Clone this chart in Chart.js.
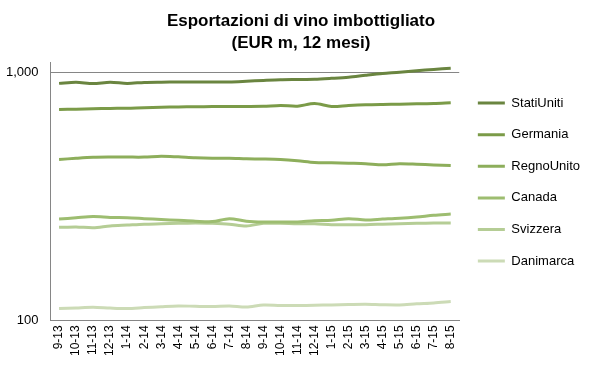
<!DOCTYPE html>
<html>
<head>
<meta charset="utf-8">
<script src="https://cdn.jsdelivr.net/npm/chart.js@4/dist/chart.umd.min.js"></script>
<style>
  html, body { margin: 0; padding: 0; background: #fff; }
  #wrap { width: 600px; height: 375px; }
</style>
</head>
<body>
<div id="wrap"><canvas id="vinoChart"></canvas></div>
<script>
// mesi (rolling 12 mesi)
const mesi = ['9-13', '10-13', '11-13', '12-13', '1-14', '2-14', '3-14', '4-14', '5-14', '6-14', '7-14', '8-14',
              '9-14', '10-14', '11-14', '12-14', '1-15', '2-15', '3-15', '4-15', '5-15', '6-15', '7-15', '8-15'];

// EUR m
const statiUniti = [902, 912, 900, 912, 902, 910, 912, 913, 913, 913, 914, 920, 927, 933, 935, 937, 945, 955, 972, 988, 1000, 1015, 1027, 1038];
const germania   = [708, 710, 713, 715, 716, 720, 722, 725, 726, 727, 728, 728, 729, 735, 730, 748, 728, 735, 740, 742, 743, 746, 748, 753];
const regnoUnito = [445, 450, 454, 455, 455, 455, 459, 456, 452, 450, 450, 448, 447, 445, 440, 433, 432, 430, 428, 424, 428, 426, 423, 421];
const canada     = [256, 259, 262, 260, 259, 257, 255, 253, 251, 250, 257, 251, 249, 249, 249, 252, 253, 257, 254, 256, 258, 261, 265, 268];
const svizzera   = [237, 238, 236, 240, 242, 244, 245, 246, 247, 246, 244, 240, 246, 246, 245, 245, 243, 243, 243, 244, 245, 246, 247, 247];
const danimarca  = [111.5, 112.2, 112.9, 112, 111.5, 112.5, 113.5, 114.3, 113.9, 113.6, 114.3, 113.2, 115.3, 114.8, 114.7, 114.9, 115.4, 115.8, 116.1, 115.5, 115.3, 116.5, 117.5, 119];

const yTicks = [100, 1000];

const grigio = '#868686';

function serie(label, data, colore) {
  return {
    label: label,
    data: data,
    borderColor: colore,
    backgroundColor: colore,
    borderWidth: 3,
    pointRadius: 0,
    tension: 0.3,
    fill: false
  };
}

// il titolo va centrato sulla pagina, non sul box spostato dal padding
const centraTitolo = {
  id: 'centraTitolo',
  afterLayout(chart) {
    if (chart.titleBlock) {
      chart.titleBlock.left += 9;
      chart.titleBlock.right += 9;
    }
  }
};

new Chart(document.getElementById('vinoChart'), {
  type: 'line',
  data: {
    labels: mesi,
    datasets: [
      serie('StatiUniti', statiUniti, '#6A8540'),
      serie('Germania', germania, '#7B9B48'),
      serie('RegnoUnito', regnoUnito, '#8DAE5B'),
      serie('Canada', canada, '#9DBD70'),
      serie('Svizzera', svizzera, '#B5CD95'),
      serie('Danimarca', danimarca, '#CCDBB6')
    ]
  },
  plugins: [centraTitolo],
  options: {
    responsive: true,
    maintainAspectRatio: false,
    animation: false,
    layout: { padding: { left: -6, right: 10, bottom: 14 } },
    plugins: {
      title: {
        display: true,
        text: ['Esportazioni di vino imbottigliato', '(EUR m, 12 mesi)'],
        color: '#000',
        font: { family: '"Liberation Sans", Arial, sans-serif', size: 17, weight: 'bold', lineHeight: 1.3 },
        padding: { top: 10, bottom: 7.8 }
      },
      legend: {
        position: 'right',
        align: 'start',
        fullSize: false,
        // spazio vuoto sopra la legenda
        title: { display: true, text: '', font: { size: 1 }, padding: { top: 14.8, bottom: 0 } },
        labels: {
          usePointStyle: true,
          pointStyle: 'line',
          pointStyleWidth: 27,
          padding: 18.6,
          color: '#000',
          font: { family: '"Liberation Sans", Arial, sans-serif', size: 13 }
        }
      },
      tooltip: { enabled: false }
    },
    scales: {
      x: {
        offset: true,
        grid: { display: false, drawTicks: false },
        border: { display: true, color: grigio, width: 1 },
        ticks: {
          autoSkip: false,
          minRotation: 90,
          maxRotation: 90,
          padding: 5,
          color: '#000',
          font: { family: '"Liberation Sans", Arial, sans-serif', size: 12 }
        }
      },
      y: {
        type: 'logarithmic',
        min: 100,
        max: 1100,
        afterBuildTicks: (axis) => { axis.ticks = yTicks.map(v => ({ value: v })); },
        grid: {
          drawTicks: false,
          color: (c) => (c.tick && c.tick.value === 1000 ? grigio : 'rgba(0,0,0,0)')
        },
        border: { display: true, color: grigio, width: 1 },
        ticks: {
          padding: 12,
          color: '#000',
          font: { family: '"Liberation Sans", Arial, sans-serif', size: 13 },
          callback: (v) => Number(v).toLocaleString('en-US')
        }
      }
    }
  }
});
</script>
</body>
</html>
